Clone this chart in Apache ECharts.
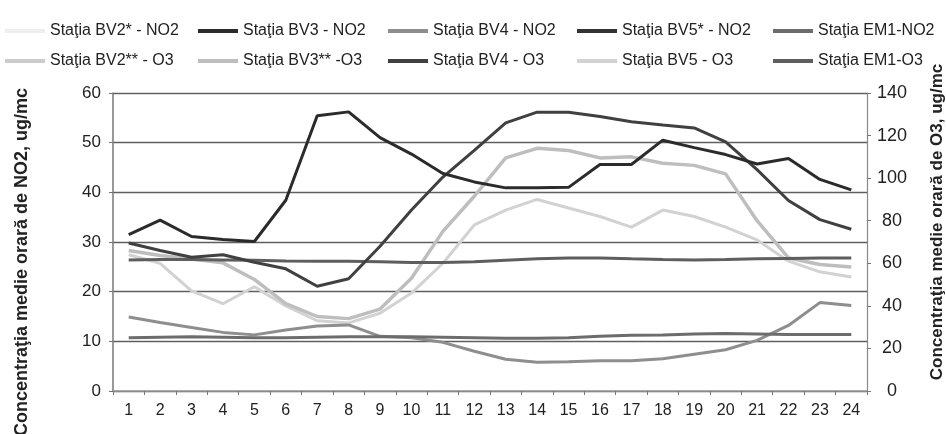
<!DOCTYPE html>
<html>
<head>
<meta charset="utf-8">
<script src="https://cdn.jsdelivr.net/npm/echarts@6/dist/echarts.min.js"></script>
<style>
html,body{margin:0;padding:0;background:#fff;}
#chart{width:946px;height:434px;}
</style>
</head>
<body>
<div id="chart"></div>
<script>
// ---- data ----
const hours = ['1','2','3','4','5','6','7','8','9','10','11','12','13','14','15','16','17','18','19','20','21','22','23','24'];
const no2TickLabels = [0,10,20,30,40,50,60];
const o3TickLabels = [0,20,40,60,80,100,120,140];

// NO2 (left axis, ug/mc)
const no2_BV2 = [];   // not visible in the picture
const no2_BV3 = [31.5,34.4,31.1,30.5,30.1,38.4,55.4,56.2,51.0,47.7,43.8,42.1,40.9,40.9,41.0,45.6,45.6,50.5,49.0,47.6,45.7,46.8,42.6,40.5];
const no2_BV4 = [14.9,13.8,12.8,11.8,11.3,12.3,13.1,13.3,11.0,10.7,9.8,8.0,6.4,5.8,5.9,6.1,6.1,6.5,7.4,8.3,10.2,13.2,17.8,17.2];
const no2_BV5 = [];   // not visible in the picture
const no2_EM1 = [10.7,10.8,10.9,10.8,10.7,10.7,10.8,10.9,10.9,10.9,10.8,10.7,10.6,10.6,10.7,11.0,11.2,11.3,11.5,11.6,11.5,11.4,11.4,11.4];

// O3 (right axis, ug/mc)
const o3_BV2 = [];    // not visible in the picture
const o3_BV3 = [66,63.7,62,60.2,52.4,41,35,34,38.5,53,75,91.5,109.5,114,113,109.5,110,107,106,102,80,62.5,59.4,58.3];
const o3_BV4 = [69.5,66,62.8,64,60.5,57.4,49.2,52.7,68,85,100.5,113,126,131,131,129,126.5,125,123.6,117,104,89.5,80.5,76];
const o3_BV5 = [64,60,47,41,49,40,33,32,36.5,46,60,78,85,90,86,82,77,85,82,77,71,61,56,53.6];
const o3_EM1 = [61.6,61.8,61.8,61.6,61.4,61.1,60.9,60.9,60.7,60.4,60.4,60.7,61.4,62.1,62.5,62.5,62.1,61.8,61.6,61.8,62.1,62.3,62.5,62.5];

const names = {
  no2_BV2:'Staţia BV2* - NO2', no2_BV3:'Staţia BV3 - NO2', no2_BV4:'Staţia BV4 - NO2',
  no2_BV5:'Staţia BV5* - NO2', no2_EM1:'Staţia EM1-NO2',
  o3_BV2:'Staţia BV2** - O3', o3_BV3:'Staţia BV3** -O3', o3_BV4:'Staţia BV4 - O3',
  o3_BV5:'Staţia BV5 - O3', o3_EM1:'Staţia EM1-O3'
};

const FONT = '"Liberation Sans", Arial, sans-serif';

function line(name, data, axis, color, width, z) {
  return {
    name: name, type: 'line', data: data, yAxisIndex: axis,
    symbol: 'none', showSymbol: false, smooth: false, z: z,
    lineStyle: { color: color, width: width },
    itemStyle: { color: color },
    emphasis: { disabled: true }
  };
}

const series = [
  line(names.no2_BV2, no2_BV2, 0, '#eeeeee', 3, 2),
  line(names.o3_BV5,  o3_BV5,  1, '#d2d2d2', 3, 3),
  line(names.o3_BV2,  o3_BV2,  1, '#cccccc', 3, 3),
  line(names.o3_BV3,  o3_BV3,  1, '#bebebe', 3.5, 4),
  line(names.no2_BV4, no2_BV4, 0, '#8e8e8e', 3, 5),
  line(names.no2_EM1, no2_EM1, 0, '#6c6c6c', 3, 5),
  line(names.o3_EM1,  o3_EM1,  1, '#5e5e5e', 3, 5),
  line(names.o3_BV4,  o3_BV4,  1, '#404040', 3, 6),
  line(names.no2_BV5, no2_BV5, 0, '#333333', 3, 6),
  line(names.no2_BV3, no2_BV3, 0, '#2b2b2b', 3, 7)
];

function legendCol(left, items) {
  return {
    show: true, orient: 'vertical', left: left, top: 23, padding: 0,
    icon: 'rect', itemWidth: 40, itemHeight: 4, itemGap: 14,
    textStyle: { fontFamily: FONT, fontSize: 16, color: '#222', lineHeight: 16 },
    data: items, selectedMode: false
  };
}

const chart = echarts.init(document.getElementById('chart'), null, { renderer: 'canvas' });
chart.setOption({
  animation: false,
  backgroundColor: '#ffffff',
  textStyle: { fontFamily: FONT },
  legend: [
    legendCol(5,   [names.no2_BV2, names.o3_BV2]),
    legendCol(198, [names.no2_BV3, names.o3_BV3]),
    legendCol(388, [names.no2_BV4, names.o3_BV4]),
    legendCol(577, [names.no2_BV5, names.o3_BV5]),
    legendCol(773, [names.no2_EM1, names.o3_EM1])
  ],
  grid: { left: 113, right: 79, top: 93, bottom: 43, containLabel: false },
  xAxis: {
    type: 'category', data: hours, boundaryGap: true,
    axisLine: { show: true, lineStyle: { color: '#9a9a9a', width: 1.5 } },
    axisTick: { show: true, length: 4, lineStyle: { color: '#777' } },
    axisLabel: { fontFamily: FONT, fontSize: 16, color: '#222', margin: 12 },
    splitLine: { show: false }
  },
  yAxis: [
    {
      type: 'value', min: 0, max: 60, interval: 10, position: 'left',
      axisLine: { show: true, lineStyle: { color: '#777', width: 1.5 } },
      axisTick: { show: true, length: 4, lineStyle: { color: '#777' } },
      axisLabel: { fontFamily: FONT, fontSize: 17, color: '#222', margin: 12,
        formatter: function (v) { return no2TickLabels.indexOf(v) >= 0 ? String(v) : ''; } },
      splitLine: { show: true, lineStyle: { color: '#5f5f5f', width: 1.4 } }
    },
    {
      type: 'value', min: 0, max: 140, interval: 20, position: 'right',
      axisLine: { show: true, lineStyle: { color: '#888', width: 1.2 } },
      axisTick: { show: true, length: 4, lineStyle: { color: '#777' } },
      axisLabel: { fontFamily: FONT, fontSize: 18, color: '#222', margin: 25, align: 'center',
        formatter: function (v) { return o3TickLabels.indexOf(v) >= 0 ? String(v) : ''; } },
      splitLine: { show: false }
    }
  ],
  graphic: [
    { type: 'text', x: 22, y: 262, rotation: Math.PI / 2, silent: true,
      style: { text: 'Concentraţia medie orară de NO2, ug/mc', fontFamily: FONT, fontSize: 18,
        fontWeight: 'bold', fill: '#222', align: 'center', verticalAlign: 'middle' } },
    { type: 'text', x: 937, y: 222, rotation: Math.PI / 2, silent: true,
      style: { text: 'Concentraţia medie orară de O3, ug/mc', fontFamily: FONT, fontSize: 17,
        fontWeight: 'bold', fill: '#222', align: 'center', verticalAlign: 'middle' } }
  ],
  series: series
});
</script>
</body>
</html>
